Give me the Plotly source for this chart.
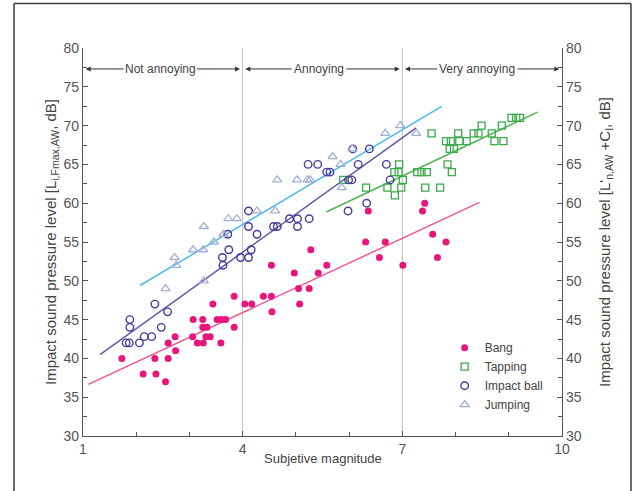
import plotly.graph_objects as go
import numpy as np

# ---------------- data ----------------
bang_x = [1.73, 2.13, 2.37, 2.35, 2.55, 2.60, 2.60, 2.73, 2.74, 3.06, 3.07, 3.15, 3.25, 3.25, 3.26, 3.33,
          3.31, 3.39, 3.44, 3.52, 3.60, 3.68, 3.59, 3.84, 3.84, 4.04, 4.17, 4.39, 4.54, 4.54, 4.55, 4.97,
          5.05, 5.07, 5.25, 5.28, 5.42, 5.58, 6.31, 6.68, 6.57, 7.01, 7.57, 7.82, 7.66, 6.36, 7.38, 7.42]
bang_y = [40, 38, 38, 40, 37, 40, 42, 42.8, 41, 42.8, 45, 42, 45, 44, 42, 44,
          42.8, 42.8, 47, 45, 45, 45, 42, 48, 44, 47, 47, 48, 48, 52, 46, 51,
          49, 47, 49, 54, 51, 52, 55, 55, 53, 52, 56, 55, 53, 59, 59, 60]

tap_x = [6.32, 6.72, 6.86, 6.98, 7.01, 6.85, 6.93, 6.94, 5.89, 7.28, 7.36, 7.46, 7.43, 7.71, 7.93, 7.85,
         7.55, 7.82, 7.91, 7.89, 7.97, 8.05, 8.07, 8.21, 8.34, 8.43, 8.49, 8.68, 8.73, 8.90, 8.87, 9.05,
         9.14, 9.21]
tap_y = [62, 62, 61, 62, 63, 64, 64, 65, 63, 64, 64, 64, 62, 62, 64, 65,
         69, 68, 68, 67, 67, 69, 68, 68, 69, 69, 70, 69, 68, 68, 70, 71,
         71, 71]

ball_x = [1.88, 1.88, 1.81, 1.87, 2.06, 2.15, 2.29, 2.47, 2.35, 2.59, 3.62, 3.63, 3.74, 3.72, 3.96, 4.11,
          4.16, 4.27, 4.11, 4.11, 4.58, 4.65, 4.88, 5.03, 5.03, 5.25, 5.23, 5.41, 5.58, 5.64, 6.07, 6.38,
          6.17, 6.70, 5.99, 6.05, 6.77, 6.33, 5.98]
ball_y = [45, 44, 42, 42, 42, 42.8, 42.8, 44, 47, 46, 53, 52, 54, 56, 53, 53,
          54, 56, 59, 57, 57, 57, 58, 58, 57, 58, 65, 65, 64, 64, 67, 67,
          65, 65, 63, 63, 63, 60, 59]

jump_x = [2.72, 2.75, 2.55, 3.07, 3.26, 3.27, 3.46, 3.64, 3.27, 3.73, 3.89, 4.27, 4.61, 4.65, 5.02, 5.22,
          5.27, 5.69, 5.84, 5.86, 6.06, 6.68, 6.96, 7.26]
jump_y = [53, 52, 49, 54, 54, 50, 55, 56, 57, 58, 58, 59, 59, 63, 63, 63,
          63, 66, 65, 62, 67, 69, 70, 69]

# fitted lines: (intercept, slope, x-start, x-end)
bang_fit = (33.15, 3.19, 1.10, 8.45)
tap_fit = (40.82, 3.24, 5.57, 9.54)
ball_fit = (34.0, 4.92, 1.32, 7.26)
jump_fit = (40.97, 4.07, 2.07, 7.74)

zone_labels = ["Not annoying", "Annoying", "Very annoying"]
zone_bounds = [1, 4, 7, 10]
x_ticks = [1, 4, 7, 10]
y_ticks = [30, 35, 40, 45, 50, 55, 60, 65, 70, 75, 80]

# ---------------- styling ----------------
FONT = "Liberation Sans, Arial, sans-serif"
TXT = "#444444"
AX = "#555555"

C_BANG, C_BANG_L = "#e8157c", "#ec5a90"
C_TAP, C_TAP_L = "#3aab4a", "#4db552"
C_BALL, C_BALL_L = "#4a3a9c", "#6a56aa"
C_JUMP, C_JUMP_L = "#a3aed6", "#4cb9ea"

fig = go.Figure()


def fit_line(fit, color):
    a, b, x0, x1 = fit
    xs = np.array([x0, x1])
    fig.add_trace(go.Scatter(x=xs, y=a + b * xs, mode="lines",
                             line=dict(color=color, width=1.5),
                             showlegend=False, hoverinfo="skip"))


fit_line(bang_fit, C_BANG_L)
fit_line(tap_fit, C_TAP_L)
fit_line(ball_fit, C_BALL_L)
fit_line(jump_fit, C_JUMP_L)

fig.add_trace(go.Scatter(x=bang_x, y=bang_y, mode="markers", name="Bang",
                         marker=dict(symbol="circle", size=7, color=C_BANG)))
fig.add_trace(go.Scatter(x=tap_x, y=tap_y, mode="markers", name="Tapping",
                         marker=dict(symbol="square-open", size=7, color=C_TAP,
                                     line=dict(width=1.3, color=C_TAP))))
fig.add_trace(go.Scatter(x=ball_x, y=ball_y, mode="markers", name="Impact ball",
                         marker=dict(symbol="circle-open", size=7.5, color=C_BALL,
                                     line=dict(width=1.4, color=C_BALL))))
fig.add_trace(go.Scatter(x=jump_x, y=jump_y, mode="markers", name="Jumping",
                         marker=dict(symbol="triangle-up-open", size=8, color=C_JUMP,
                                     line=dict(width=1.3, color=C_JUMP))))
# invisible trace to activate the right axis
fig.add_trace(go.Scatter(x=[None], y=[None], yaxis="y2", showlegend=False, hoverinfo="skip"))

# vertical zone boundaries
for xb in zone_bounds[1:-1]:
    fig.add_shape(type="line", x0=xb, x1=xb, y0=30, y1=80, xref="x", yref="y",
                  line=dict(color="#bdbdbd", width=1), layer="below")

# zone arrows and labels
ARROW_Y = 77.3
gaps = [(1.79, 3.11), (4.95, 5.92), (7.68, 9.14)]
annotations = []
for i, lab in enumerate(zone_labels):
    lo, hi = zone_bounds[i], zone_bounds[i + 1]
    g0, g1 = gaps[i]
    annotations.append(dict(x=lo + 0.05, y=ARROW_Y, ax=g0, ay=ARROW_Y, xref="x", yref="y",
                            axref="x", ayref="y", text="", showarrow=True, arrowhead=2,
                            arrowsize=1, arrowwidth=1, arrowcolor="#333333", standoff=0))
    annotations.append(dict(x=hi - 0.05, y=ARROW_Y, ax=g1, ay=ARROW_Y, xref="x", yref="y",
                            axref="x", ayref="y", text="", showarrow=True, arrowhead=2,
                            arrowsize=1, arrowwidth=1, arrowcolor="#333333", standoff=0))
    annotations.append(dict(x=(g0 + g1) / 2, y=ARROW_Y, xref="x", yref="y", text=lab,
                            showarrow=False, font=dict(family=FONT, size=12, color=TXT)))

annotations.append(dict(x=0.5, y=-0.057, xref="paper", yref="paper", text="Subjetive magnitude",
                        showarrow=False, xanchor="center", yanchor="middle",
                        font=dict(family=FONT, size=13, color=TXT)))

# outer frame (left, top, right)
frame = dict(color="#3a3a3a", width=1.5)
fx0, fx1, fy0, fy1 = -0.144, 1.144, -0.16, 1.115
fig.add_shape(type="line", xref="paper", yref="paper", x0=fx0, x1=fx0, y0=fy0, y1=fy1, line=frame)
fig.add_shape(type="line", xref="paper", yref="paper", x0=fx0, x1=fx1, y0=fy1, y1=fy1, line=frame)
fig.add_shape(type="line", xref="paper", yref="paper", x0=fx1, x1=fx1, y0=fy0, y1=fy1, line=frame)

axis_common = dict(showgrid=False, zeroline=False, showline=True, linecolor=AX, linewidth=1.2,
                   ticks="inside", ticklen=5, tickwidth=1, tickcolor=AX,
                   tickfont=dict(family=FONT, size=14, color="#555555"))

fig.update_layout(
    width=644, height=491,
    margin=dict(l=83, r=82, t=48, b=55),
    paper_bgcolor="white", plot_bgcolor="white",
    font=dict(family=FONT, color=TXT),
    xaxis=dict(range=[1, 10], tickvals=x_ticks, ticktext=[str(v) for v in x_ticks],
               minor=dict(dtick=1, tick0=1, ticks="inside", ticklen=4, tickcolor=AX),
               **axis_common),
    yaxis=dict(range=[30, 80], tickvals=y_ticks,
               minor=dict(dtick=2.5, tick0=30, ticks="inside", ticklen=4, tickcolor=AX),
               title=dict(text="Impact sound pressure level [L<sub>i,Fmax,AW</sub>, dB]",
                          font=dict(family=FONT, size=15, color="#444444"), standoff=3),
               **axis_common),
    yaxis2=dict(range=[30, 80], tickvals=y_ticks, overlaying="y", side="right",
                minor=dict(dtick=2.5, tick0=30, ticks="inside", ticklen=4, tickcolor=AX),
                title=dict(text="Impact sound pressure level [L'<sub>n,AW</sub> +C<sub>I</sub>, dB]",
                           font=dict(family=FONT, size=15, color="#444444"), standoff=18),
                **axis_common),
    legend=dict(x=0.755, y=0.265, xanchor="left", yanchor="top", bgcolor="rgba(0,0,0,0)",
                font=dict(family=FONT, size=12, color=TXT), tracegroupgap=0),
    annotations=annotations,
    showlegend=True,
)

fig.write_html("out.html")
